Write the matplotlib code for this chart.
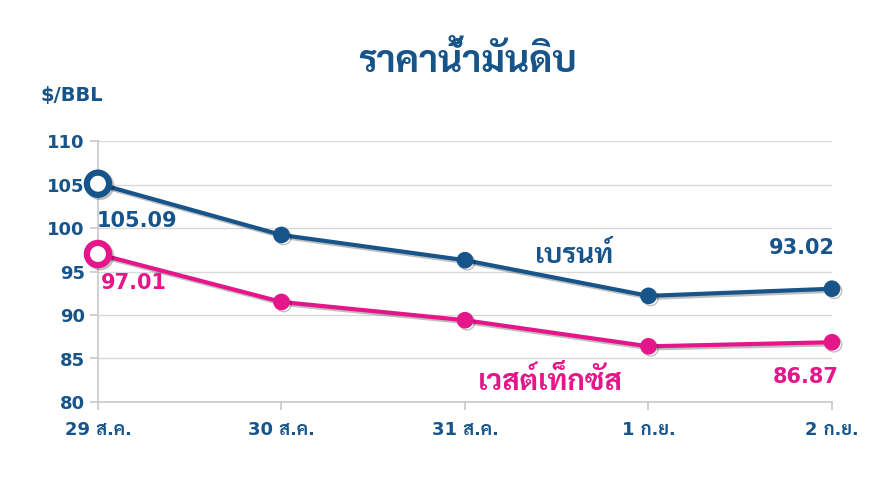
import matplotlib
matplotlib.use("Agg")
import matplotlib.pyplot as plt
import matplotlib.patheffects as pe

dates = ["29 ส.ค.", "30 ส.ค.", "31 ส.ค.", "1 ก.ย.", "2 ก.ย."]
brent = [105.09, 99.2, 96.3, 92.2, 93.02]
wti = [97.01, 91.5, 89.4, 86.4, 86.87]
yticks = [80, 85, 90, 95, 100, 105, 110]

NAVY = "#17548a"
PINK = "#e5168a"

# DejaVu for latin/digits, Sarabun takes over for the Thai glyphs
plt.rcParams["font.family"] = ["DejaVu Sans", "Sarabun"]
THAI = ["Sarabun", "DejaVu Sans"]

fig = plt.figure(figsize=(8.93, 4.78), dpi=100)
ax = fig.add_axes([0.1097, 0.159, 0.822, 0.546])

x = list(range(len(dates)))
shadow = [pe.SimpleLineShadow(offset=(1.5, -1.5), alpha=0.25, shadow_color="black"), pe.Normal()]

for vals, col in [(brent, NAVY), (wti, PINK)]:
    ax.plot(x, vals, color=col, lw=3, zorder=3, path_effects=shadow, clip_on=False)
    ax.plot(x[1:], vals[1:], "o", color=col, ms=11, zorder=4, path_effects=shadow, clip_on=False)
    ax.plot(x[:1], vals[:1], "o", mfc="white", mec=col, mew=4.5, ms=16, zorder=5,
            path_effects=shadow, clip_on=False)

ax.set_xlim(0, len(dates) - 1)
ax.set_ylim(80, 110)
ax.set_yticks(yticks)
ax.set_xticks(x)
ax.set_xticklabels(dates)
ax.grid(axis="y", color="#d9d9d9", lw=1)
ax.set_axisbelow(True)
for s in ["top", "right"]:
    ax.spines[s].set_visible(False)
for s in ["left", "bottom"]:
    ax.spines[s].set_color("#c8c8c8")
    ax.spines[s].set_linewidth(1.2)
ax.tick_params(axis="both", colors="#c8c8c8", labelcolor=NAVY, labelsize=13, length=6, width=1.2)
ax.tick_params(axis="x", pad=8)
for lbl in ax.get_xticklabels() + ax.get_yticklabels():
    lbl.set_fontweight("bold")

fig.text(0.524, 0.87, "ราคาน้ำมันดิบ", ha="center", va="center", fontsize=27, fontweight="bold",
         color=NAVY, family=THAI)
fig.text(0.045, 0.80, "$/BBL", ha="left", va="center", fontsize=14, fontweight="bold", color=NAVY)

lab = dict(fontsize=15, fontweight="bold", textcoords="offset points")
ax.annotate(f"{brent[0]:.2f}", (0, brent[0]), xytext=(-1, -27), ha="left", va="center", color=NAVY, **lab)
ax.annotate(f"{wti[0]:.2f}", (0, wti[0]), xytext=(2, -21), ha="left", va="center", color=PINK, **lab)
ax.annotate(f"{brent[-1]:.2f}", (4, brent[-1]), xytext=(2, 29), ha="right", va="center", color=NAVY, **lab)
ax.annotate(f"{wti[-1]:.2f}", (4, wti[-1]), xytext=(5, -25), ha="right", va="center", color=PINK, **lab)

ax.text(0.648, 0.56, "เบรนท์", transform=ax.transAxes, ha="center", va="center",
        fontsize=20, fontweight="bold", color=NAVY, family=THAI)
ax.text(0.616, 0.075, "เวสต์เท็กซัส", transform=ax.transAxes, ha="center", va="center",
        fontsize=21, fontweight="bold", color=PINK, family=THAI)

fig.savefig("out.png", dpi=100)
